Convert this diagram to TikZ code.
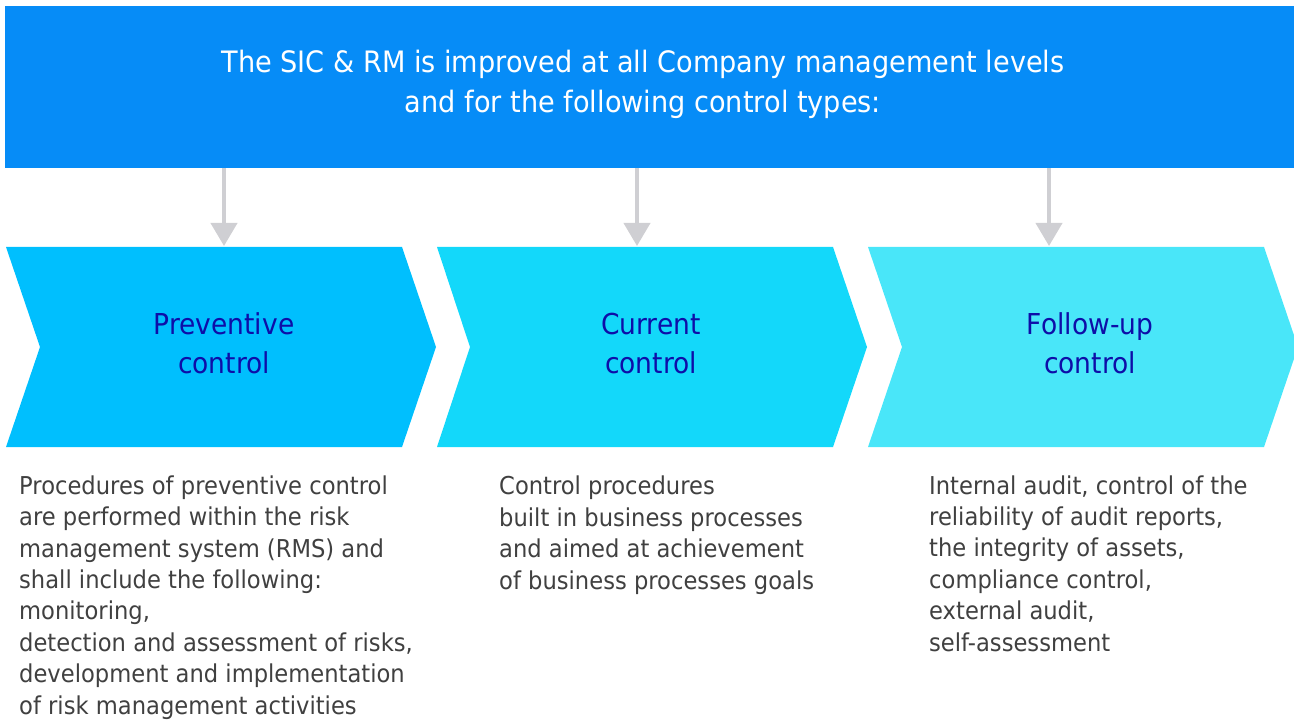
\documentclass[tikz,border=0pt]{standalone}
\usepackage{fontspec}
\setmainfont[FakeStretch=0.92]{DejaVu Sans}
\usetikzlibrary{arrows.meta,calc}
\definecolor{topblue}{HTML}{068CF7}
\definecolor{chevA}{HTML}{00BFFE}
\definecolor{chevB}{HTML}{13D8FA}
\definecolor{chevC}{HTML}{49E6F9}
\definecolor{labelblue}{HTML}{0E0EA8}
\definecolor{bodygray}{HTML}{404040}
\definecolor{arrowgray}{HTML}{CFCFD3}
\tikzset{
  topbox/.style={fill=topblue, draw=none, inner sep=0pt, minimum width=1290pt, minimum height=162pt},
  titletext/.style={text=white, align=center, inner sep=0pt, font=\fontsize{29.5}{40}\selectfont},
  chevlabel/.style={text=labelblue, align=center, inner sep=0pt, font=\fontsize{28.8}{39}\selectfont},
  bodytext/.style={text=bodygray, align=left, inner sep=0pt, font=\fontsize{24.6}{31.4}\selectfont},
  conn/.style={draw=arrowgray, line width=4pt, -{Triangle[width=26pt,length=23pt]}},
}
\begin{document}
\begin{tikzpicture}[x=1pt,y=-1pt]
\useasboundingbox (0,0) rectangle (1294,722);
% top banner
\node[topbox] (top) at (650,87) {};
% (base anchor = baseline of the last line)
\node[titletext, anchor=base] (title) at (643,113) {The SIC \& RM is improved at all Company management levels\\and for the following control types:};
% chevrons
\fill[chevA] (6,247) -- (402,247) -- (436,347) -- (402,447) -- (6,447) -- (40,347) -- cycle;
\fill[chevB] (437,247) -- (833,247) -- (867,347) -- (833,447) -- (437,447) -- (470,347) -- cycle;
\fill[chevC] (868,247) -- (1264,247) -- (1298,347) -- (1264,447) -- (868,447) -- (902,347) -- cycle;
\node[chevlabel, anchor=base] (prev) at (224,373) {Preventive\\control};
\node[chevlabel, anchor=base] (curr) at (651,373) {Current\\control};
\node[chevlabel, anchor=base] (foll) at (1090,373) {Follow-up\\control};
% arrow targets (top edge of chevrons)
\coordinate (t1) at (224,246);
\coordinate (t2) at (637,246);
\coordinate (t3) at (1049,246);
\draw[conn] (top.south -| t1) -- (t1);
\draw[conn] (top.south -| t2) -- (t2);
\draw[conn] (top.south -| t3) -- (t3);
% descriptions
\node[bodytext, anchor=base west] (d1) at (19,714) {Procedures of preventive control\\are performed within the risk\\management system (RMS) and\\shall include the following:\\monitoring,\\detection and assessment of risks,\\development and implementation\\of risk management activities};
\node[bodytext, anchor=base west] (d2) at (499,589) {Control procedures\\built in business processes\\and aimed at achievement\\of business processes goals};
\node[bodytext, anchor=base west] (d3) at (929,651) {Internal audit, control of the\\reliability of audit reports,\\the integrity of assets,\\compliance control,\\external audit,\\self-assessment};
\end{tikzpicture}
\end{document}
